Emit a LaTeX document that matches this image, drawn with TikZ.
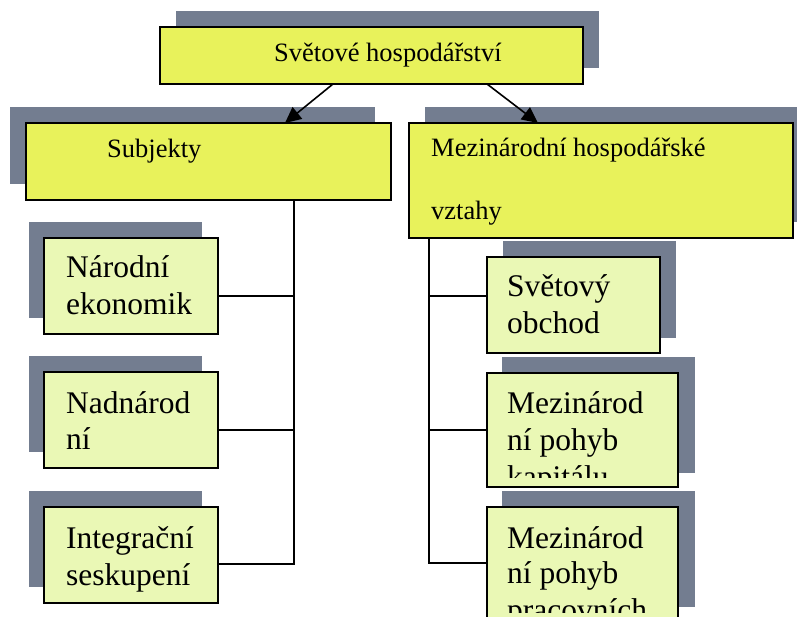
\documentclass[tikz,border=0pt]{standalone}
\usepackage{fontspec}
\setmainfont{Liberation Serif}
\usetikzlibrary{arrows.meta,calc}
\definecolor{shad}{HTML}{737D90}
\definecolor{yel}{HTML}{E8F25B}
\definecolor{lyel}{HTML}{EAF8B5}
\begin{document}
\begin{tikzpicture}[x=1pt,y=-1pt,
 bigbox/.style={draw=black,line width=2pt,fill=yel,inner sep=0pt,outer sep=0pt,anchor=north west},
 smallbox/.style={draw=black,line width=2pt,fill=lyel,inner sep=0pt,outer sep=0pt,anchor=north west},
 shadowbox/.style={fill=shad},
 bigtxt/.style={anchor=base west,inner sep=0pt,font=\fontsize{26.5}{30}\selectfont},
 smalltxt/.style={anchor=base west,inner sep=0pt,font=\fontsize{31.5}{36}\selectfont},
 conn/.style={line width=1.6pt},
 arr/.style={line width=1.6pt,-{Triangle[length=16pt,width=15pt]}}]
\useasboundingbox (0,0) rectangle (797,617);
\clip (0,0) rectangle (797,617);
% shadows
\fill[shadowbox] (176,11) rectangle (599,68);
\fill[shadowbox] (10,107) rectangle (375,184);
\fill[shadowbox] (425,107) rectangle (809,222);
\fill[shadowbox] (29,222) rectangle (202,318);
\fill[shadowbox] (29,356) rectangle (202,452);
\fill[shadowbox] (29,491) rectangle (202,587);
\fill[shadowbox] (503,241) rectangle (676,338);
\fill[shadowbox] (502,357) rectangle (695,473);
\fill[shadowbox] (502,491) rectangle (695,607);
% boxes
\node[bigbox,minimum width=423pt,minimum height=57pt] (top) at (160,27) {};
\node[bigbox,minimum width=365pt,minimum height=77pt] (subj) at (26,123) {};
\node[bigbox,minimum width=384pt,minimum height=115pt] (mez) at (409,123) {};
\node[smallbox,minimum width=174pt,minimum height=96pt] (nar) at (44,238) {};
\node[smallbox,minimum width=174pt,minimum height=96pt] (nad) at (44,372) {};
\node[smallbox,minimum width=174pt,minimum height=96pt] (int) at (44,507) {};
\node[smallbox,minimum width=173pt,minimum height=96pt] (svet) at (487,257) {};
\node[smallbox,minimum width=191pt,minimum height=114pt] (kap) at (487,373) {};
\node[smallbox,minimum width=191pt,minimum height=114pt] (prac) at (487,507) {};
% arrows
\draw[arr] ($(top.south west)+(173,0)$) -- ($(subj.north west)+(259,0)$);
\draw[arr] ($(top.south west)+(327,0)$) -- ($(mez.north west)+(129,0)$);
% left connectors
\coordinate (lt) at ($(subj.south west)+(268,0)$);
\coordinate (l1) at ($(nar.east)+(0,10)$);
\coordinate (l2) at ($(nad.east)+(0,10)$);
\coordinate (l3) at ($(int.east)+(0,9)$);
\draw[conn] (lt) |- (l3);
\draw[conn] (l1) -- (l1 -| lt);
\draw[conn] (l2) -- (l2 -| lt);
% right connectors
\coordinate (rt) at ($(mez.south west)+(20,0)$);
\coordinate (r1) at ($(svet.west)+(0,-9)$);
\coordinate (r2) at (kap.west);
\coordinate (r3) at ($(prac.west)+(0,-1)$);
\draw[conn] (rt) |- (r3);
\draw[conn] (r1) -- (r1 -| rt);
\draw[conn] (r2) -- (r2 -| rt);
% texts
\node[bigtxt] (t0) at (274,62) {Světové hospodářství};
\node[bigtxt] (t1) at (107,158) {Subjekty};
\node[bigtxt] (t2) at (431,157) {Mezinárodní hospodářské};
\node[bigtxt] (t3) at (431,220) {vztahy};
\node[smalltxt] (a1) at (66,278) {Národní};
\node[smalltxt] (a2) at (66,315) {ekonomik};
\node[smalltxt] (b1) at (66,413) {Nadnárod};
\node[smalltxt] (b2) at (66,449) {ní};
\node[smalltxt] (c1) at (66,548) {Integrační};
\node[smalltxt] (c2) at (66,585) {seskupení};
\node[smalltxt] (d1) at (507,297) {Světový};
\node[smalltxt] (d2) at (507,333) {obchod};
\node[smalltxt] (e1) at (507,413) {Mezinárod};
\node[smalltxt] (e2) at (507,450) {ní pohyb};
\begin{scope}
\clip (487,373) rectangle (700,477);
\node[smalltxt] (e3) at (507,487) {kapitálu};
\end{scope}
\node[smalltxt] (f1) at (507,548) {Mezinárod};
\node[smalltxt] (f2) at (507,583) {ní pohyb};
\begin{scope}
\clip (487,507) rectangle (700,612);
\node[smalltxt] (f3) at (507,620) {pracovních};
\end{scope}
\end{tikzpicture}
\end{document}
